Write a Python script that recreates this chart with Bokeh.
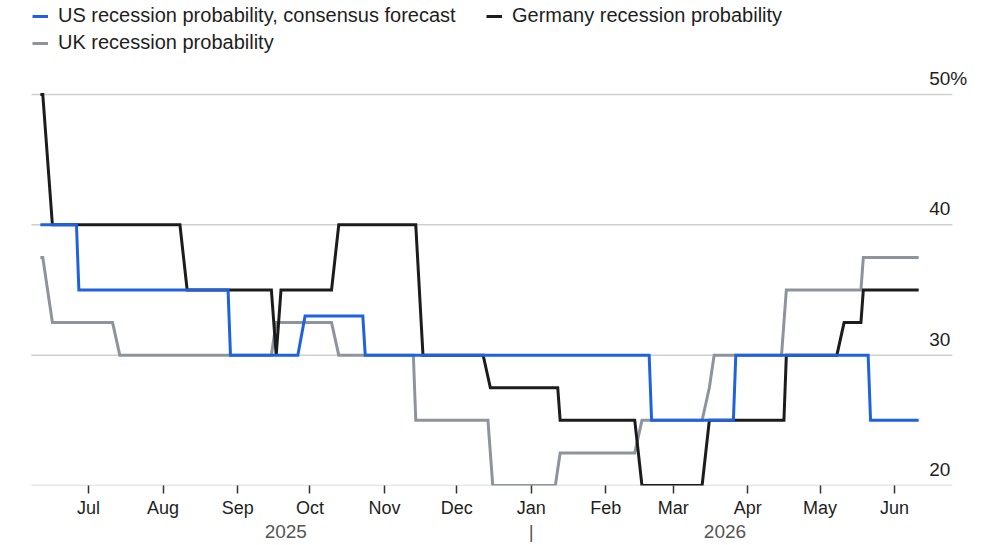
import pandas as pd
from bokeh.plotting import figure
from bokeh.models import (FixedTicker, DatetimeTickFormatter,
                          Legend, LegendItem, Label, Range1d, LinearAxis)
from bokeh.embed import file_html
from bokeh.resources import INLINE

# ---------------- data ----------------
us_dates = ["2025-06-11", "2025-06-26", "2025-06-27", "2025-08-28", "2025-08-29",
            "2025-09-26", "2025-09-29", "2025-10-23", "2025-10-24", "2026-02-19",
            "2026-02-20", "2026-03-26", "2026-03-27", "2026-05-21", "2026-05-22",
            "2026-06-11"]
us_vals = [40, 40, 35, 35, 30, 30, 33, 33, 30, 30, 25, 25, 30, 30, 25, 25]

de_dates = ["2025-06-11", "2025-06-12", "2025-06-16", "2025-08-08", "2025-08-11",
            "2025-09-15", "2025-09-17", "2025-09-19", "2025-10-10", "2025-10-13",
            "2025-11-14", "2025-11-17", "2025-12-12", "2025-12-15", "2026-01-12",
            "2026-01-13", "2026-02-13", "2026-02-16", "2026-03-13", "2026-03-16",
            "2026-04-16", "2026-04-17", "2026-05-08", "2026-05-11", "2026-05-18",
            "2026-05-19", "2026-06-11"]
de_vals = [50, 50, 40, 40, 35, 35, 30, 35, 35, 40, 40, 30, 30, 27.5, 27.5, 25, 25,
           20, 20, 25, 25, 30, 30, 32.5, 32.5, 35, 35]

uk_dates = ["2025-06-11", "2025-06-12", "2025-06-16", "2025-07-11", "2025-07-14",
            "2025-09-15", "2025-09-17", "2025-10-10", "2025-10-13", "2025-11-13",
            "2025-11-14", "2025-12-14", "2025-12-16", "2026-01-11", "2026-01-13",
            "2026-02-13", "2026-02-16", "2026-03-13", "2026-03-16", "2026-03-18",
            "2026-04-15", "2026-04-17", "2026-05-18", "2026-05-19", "2026-06-11"]
uk_vals = [37.5, 37.5, 32.5, 32.5, 30, 30, 32.5, 32.5, 30, 30, 25, 25, 20, 20,
           22.5, 22.5, 25, 25, 27.5, 30, 30, 35, 35, 37.5, 37.5]

series_names = ["US recession probability, consensus forecast",
                "Germany recession probability",
                "UK recession probability"]
month_ticks = ["2025-07-01", "2025-08-01", "2025-09-01", "2025-10-01", "2025-11-01",
               "2025-12-01", "2026-01-01", "2026-02-01", "2026-03-01", "2026-04-01",
               "2026-05-01", "2026-06-01"]
y_ticks = [20, 30, 40, 50]
year_labels = ["2025", "2026"]
year_break = "2026-01-01"

# ---------------- styling ----------------
FONT = "Liberation Sans"
BLUE = "#1f62e0"
BLACK = "#1c1c1c"
GRAY = "#8e949d"
GRID = "#cfcfcf"
TEXT = "#1e1e1e"

EPOCH = pd.Timestamp("1970-01-01")


def ms(ts):
    return int((pd.Timestamp(ts) - EPOCH) / pd.Timedelta(milliseconds=1))


us_x = pd.to_datetime(us_dates)
de_x = pd.to_datetime(de_dates)
uk_x = pd.to_datetime(uk_dates)

d_start = min(us_x.min(), de_x.min(), uk_x.min())
d_end = max(us_x.max(), de_x.max(), uk_x.max())
# plotting area (gridline extent) and full canvas extent
g_start = d_start - pd.Timedelta(days=3.7)
g_end = d_end + pd.Timedelta(days=14)
x_start = d_start - pd.Timedelta(days=16.57)
x_end = d_end + pd.Timedelta(days=34.0)
y_top = max(y_ticks) + 94 / 13.033

p = figure(width=1000, height=545, x_axis_type="datetime",
           x_range=Range1d(ms(x_start), ms(x_end)),
           y_range=Range1d(min(y_ticks), y_top),
           output_backend="svg", toolbar_location=None,
           min_border_left=0, min_border_right=0, min_border_top=0,
           min_border_bottom=60)
p.outline_line_color = None
p.background_fill_color = "white"
p.border_fill_color = "white"

# horizontal gridlines (limited to the plotting area)
p.segment(x0=[g_start] * len(y_ticks), x1=[g_end] * len(y_ticks),
          y0=y_ticks, y1=y_ticks, line_color=GRID, line_width=1.5)

r_uk = p.line(x=uk_x, y=uk_vals, line_color=GRAY, line_width=3, line_join="miter")
r_de = p.line(x=de_x, y=de_vals, line_color=BLACK, line_width=3, line_join="miter")
r_us = p.line(x=us_x, y=us_vals, line_color=BLUE, line_width=3, line_join="miter")

p.xgrid.visible = False
p.ygrid.visible = False
p.yaxis.visible = False

# month axis
ax = p.xaxis[0]
ax.ticker = FixedTicker(ticks=[ms(m) for m in month_ticks], minor_ticks=[])
ax.formatter = DatetimeTickFormatter(months="%b", days="%b", years="%b",
                                     hours="%b", minutes="%b", seconds="%b",
                                     milliseconds="%b", microseconds="%b",
                                     minsec="%b", hourmin="%b", context=None)
ax.axis_line_color = None
ax.major_tick_line_color = "#333333"
ax.major_tick_line_width = 1.5
ax.major_tick_out = 8
ax.major_tick_in = 0
ax.minor_tick_line_color = None
ax.major_label_text_font = FONT
ax.major_label_text_font_size = "18px"
ax.major_label_text_color = TEXT
ax.major_label_standoff = 4

# year axis
jan1 = pd.Timestamp(year_break)
year_centers = [ms(d_start + (jan1 - d_start) / 2), ms(jan1 + (d_end - jan1) / 2)]
overrides = {year_centers[0]: year_labels[0], ms(jan1): "|",
             year_centers[1]: year_labels[1]}
yax = LinearAxis(ticker=FixedTicker(ticks=[year_centers[0], ms(jan1), year_centers[1]]),
                 major_label_overrides=overrides)
yax.axis_line_color = None
yax.major_tick_line_color = None
yax.major_tick_out = 0
yax.major_tick_in = 0
yax.minor_tick_line_color = None
yax.major_label_text_font = FONT
yax.major_label_text_font_size = "19px"
yax.major_label_text_color = "#555555"
yax.major_label_standoff = 0
p.add_layout(yax, "below")

# right-hand value labels above gridlines
for v in y_ticks:
    p.add_layout(Label(x=ms(g_end), y=v, text=str(v), text_align="right",
                       text_baseline="alphabetic", x_offset=-2, y_offset=16,
                       text_font=FONT, text_font_size="19px", text_color=TEXT))
p.add_layout(Label(x=ms(g_end), y=max(y_ticks), text="%", text_align="left",
                   text_baseline="alphabetic", x_offset=-2, y_offset=16,
                   text_font=FONT, text_font_size="19px", text_color=TEXT))

# legend
legend = Legend(items=[LegendItem(label=series_names[0], renderers=[r_us]),
                       LegendItem(label=series_names[1], renderers=[r_de]),
                       LegendItem(label=series_names[2], renderers=[r_uk])],
                location=(32, 431), orientation="horizontal", ncols=2)
legend.label_text_font = FONT
legend.label_text_font_size = "20px"
legend.label_text_color = TEXT
legend.background_fill_alpha = 0
legend.border_line_color = None
legend.padding = 0
legend.margin = 0
legend.spacing = 4
legend.glyph_width = 16
legend.glyph_height = 20
legend.label_height = 20
legend.label_standoff = 10
legend.label_width = 424
p.add_layout(legend, "center")

open("out.html", "w").write(file_html(p, INLINE))
